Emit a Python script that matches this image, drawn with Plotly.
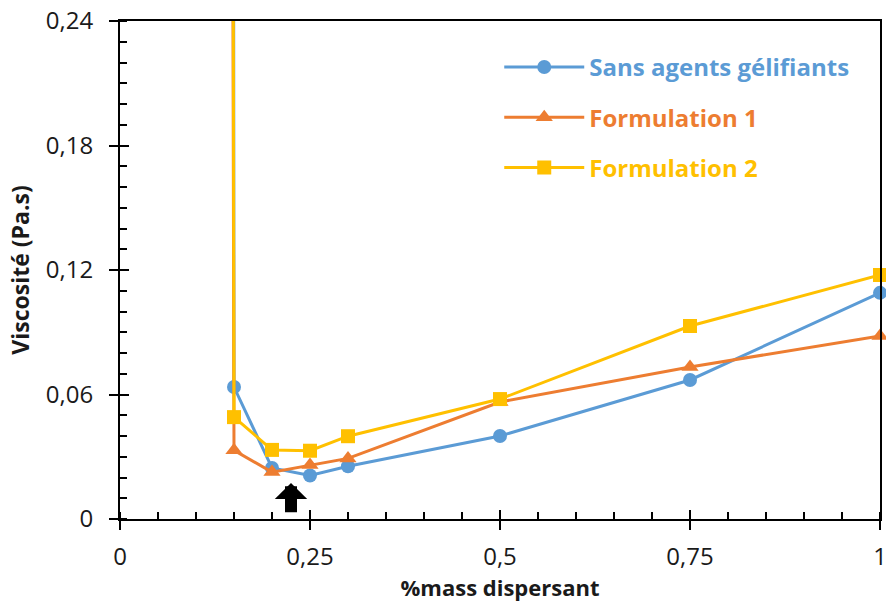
import plotly.graph_objects as go

# Data
x_sans = [0.149, 0.15, 0.2, 0.25, 0.3, 0.5, 0.75, 1.0]
y_sans = [0.5, 0.0636, 0.0246, 0.021, 0.0254, 0.040, 0.067, 0.109]

x_f1 = [0.147, 0.15, 0.2, 0.25, 0.3, 0.5, 0.75, 1.0]
y_f1 = [0.5, 0.0331, 0.0226, 0.026, 0.0292, 0.0564, 0.0733, 0.0882]

x_f2 = [0.148, 0.15, 0.2, 0.25, 0.3, 0.5, 0.75, 1.0]
y_f2 = [0.5, 0.0491, 0.0333, 0.0329, 0.0399, 0.0578, 0.0930, 0.1176]

names = ["Sans agents gélifiants", "Formulation 1", "Formulation 2"]
colors = ["#5B9BD5", "#ED7D31", "#FFC000"]
symbols = ["circle", "triangle-up", "square"]

x_ticks = [0, 0.25, 0.5, 0.75, 1]
y_ticks = [0, 0.06, 0.12, 0.18, 0.24]

FONT = "Open Sans"

fig = go.Figure()
for i, (xs, ys) in enumerate([(x_sans, y_sans), (x_f1, y_f1), (x_f2, y_f2)]):
    fig.add_trace(go.Scatter(
        x=xs, y=ys, mode="lines+markers",
        name=f"<b><span style='color:{colors[i]}'>{names[i]}</span></b>",
        line=dict(color=colors[i], width=3),
        marker=dict(color=colors[i], symbol=symbols[i], size=14 if i != 1 else 15),
        cliponaxis=False,
        legendgroup=f"g{i}",
    ))

# arrow annotation
fig.add_annotation(
    x=0.225, y=0.0174, ax=0.225, ay=0.0025,
    xref="x", yref="y", axref="x", ayref="y",
    showarrow=True, arrowhead=1, arrowsize=0.45, arrowwidth=12,
    arrowcolor="black", text="",
)

axis_common = dict(
    showgrid=False, zeroline=False, showline=True, linecolor="black",
    linewidth=2, mirror=True, ticks="outside", ticklen=9, tickwidth=2,
    tickcolor="black", tickfont=dict(family=FONT, size=24, color="#1a1a1a"),
    automargin=False, ticklabeloverflow="allow",
)

fig.update_xaxes(
    range=[0, 1], tickvals=x_ticks, ticklabelstandoff=6,
    minor=dict(ticks="inside", dtick=0.05, ticklen=7, tickwidth=1.5, tickcolor="black"),
    title=dict(text="<b>%mass dispersant</b>", font=dict(family=FONT, size=22, color="#1a1a1a"), standoff=10),
    **axis_common,
)
fig.update_yaxes(
    range=[0, 0.24], tickvals=y_ticks, ticklabelstandoff=11,
    minor=dict(ticks="inside", dtick=0.01, ticklen=7, tickwidth=1.5, tickcolor="black"),
    title=dict(text="<b>Viscosité (Pa.s)</b>", font=dict(family=FONT, size=23, color="#1a1a1a"), standoff=10),
    **axis_common,
)

# inside halves of major ticks (cross ticks)
fig.update_layout(
    xaxis2=dict(overlaying="x", range=[0, 1], tickvals=x_ticks, ticks="inside", ticklen=9,
                tickwidth=2, tickcolor="black", showticklabels=False, showgrid=False,
                zeroline=False, side="bottom", automargin=False),
    yaxis2=dict(overlaying="y", range=[0, 0.24], tickvals=y_ticks, ticks="inside", ticklen=9,
                tickwidth=2, tickcolor="black", showticklabels=False, showgrid=False,
                zeroline=False, side="left", automargin=False),
)
fig.add_trace(go.Scatter(x=[None], y=[None], xaxis="x2", yaxis="y2", showlegend=False, hoverinfo="skip"))

fig.update_layout(
    width=886, height=605,
    margin=dict(l=120, r=6, t=21, b=86, autoexpand=False),
    paper_bgcolor="white", plot_bgcolor="white",
    separators=", ",
    showlegend=True,
    legend=dict(x=0.499, y=0.952, xanchor="left", yanchor="top",
                font=dict(family=FONT, size=24), tracegroupgap=16,
                bgcolor="rgba(0,0,0,0)", itemwidth=80),
    font=dict(family=FONT),
)

fig.write_html("out.html", config={"displayModeBar": False},
               post_script="document.body.style.margin='0';")
